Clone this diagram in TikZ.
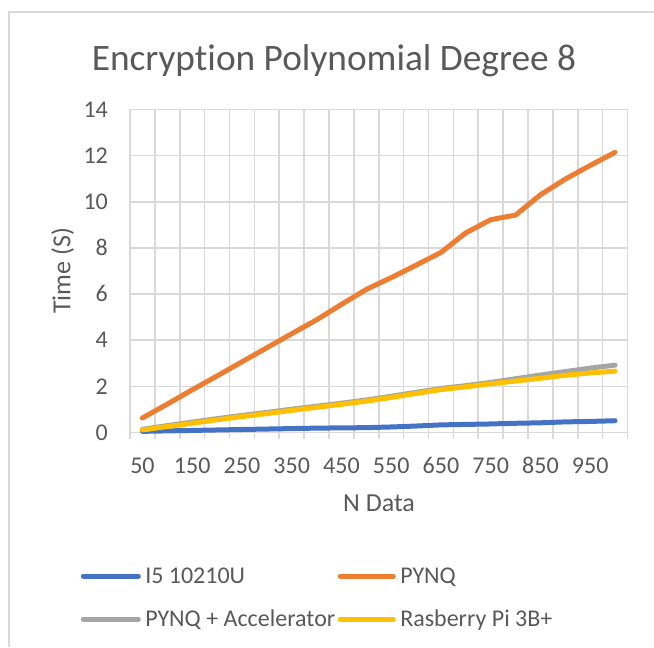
\documentclass[tikz,border=0pt]{standalone}
\usepackage{fontspec}
\setmainfont{Carlito}[Ligatures=NoCommon]
\usetikzlibrary{positioning}

\definecolor{txtgray}{HTML}{595959}
\definecolor{gridgray}{HTML}{D9D9D9}
\definecolor{i5blue}{HTML}{4472C4}
\definecolor{pynqorange}{HTML}{ED7D31}
\definecolor{accgray}{HTML}{A5A5A5}
\definecolor{rpiyellow}{HTML}{FFC000}

\begin{document}
\begin{tikzpicture}[x=0.75pt, y=-0.75pt,
        every node/.style={text=txtgray, inner sep=0pt, text depth=0pt},
        gridline/.style={draw=gridgray, line width=1.2pt},
        series/.style={line width=3.75pt, line cap=round, line join=round},
        ticklabel/.style={font=\fontsize{18}{21}\selectfont, text height=11.6pt},
        axistitle/.style={font=\fontsize{19.5}{23}\selectfont, text height=12.6pt},
        legendtext/.style={font=\fontsize{18}{21}\selectfont, text height=11.6pt, anchor=west},
        legendline/.style={line width=3.75pt, line cap=round}]
        \useasboundingbox (0,0) rectangle (654,647);
        
        % chart frame
        \draw[gridgray, line width=1.5pt] (9,647) |- (654,12);
        
        \node[font=\fontsize{28}{33}\selectfont, text height=18pt] (title) at (334,58) {Encryption Polynomial Degree 8};
        
        \begin{scope}[shift={(130,432.5)}, x=18.656pt, y=17.31pt]
            \foreach \k in {0,...,20}
                \draw[gridline] (\k,-0.28) -- (\k,14);
            \foreach \v in {0,2,...,14} {
                \draw[gridline] (0,\v) -- (20,\v);
                \node[ticklabel, anchor=east] at (-0.88,\v) {\v};
            }
            \foreach \n [count=\i] in {50,150,...,950}
                \node[ticklabel] at (2*\i-1.5,-1.42) {\n};
            
            \draw[series, i5blue] plot coordinates {(0.5,0.05) (1.5,0.07) (2.5,0.09) (3.5,0.11) (4.5,0.13) (5.5,0.15) (6.5,0.17) (7.5,0.19) (8.5,0.20) (9.5,0.21) (10.5,0.24) (11.5,0.28) (12.5,0.33) (13.5,0.35) (14.5,0.37) (15.5,0.40) (16.5,0.42) (17.5,0.46) (18.5,0.48) (19.5,0.51)};
            \draw[series, pynqorange] plot coordinates {(0.5,0.63) (1.5,1.23) (2.5,1.85) (3.5,2.45) (4.5,3.06) (5.5,3.67) (6.5,4.28) (7.5,4.88) (8.5,5.55) (9.5,6.20) (10.5,6.71) (11.5,7.25) (12.5,7.80) (13.5,8.65) (14.5,9.22) (15.5,9.42) (16.5,10.30) (17.5,10.98) (18.5,11.57) (19.5,12.14)};
            \draw[series, accgray] plot coordinates {(0.5,0.14) (1.5,0.30) (2.5,0.45) (3.5,0.60) (4.5,0.74) (5.5,0.87) (6.5,1.01) (7.5,1.14) (8.5,1.27) (9.5,1.41) (10.5,1.57) (11.5,1.74) (12.5,1.91) (13.5,2.03) (14.5,2.17) (15.5,2.33) (16.5,2.49) (17.5,2.64) (18.5,2.79) (19.5,2.92)};
            \draw[series, rpiyellow] plot coordinates {(0.5,0.11) (1.5,0.26) (2.5,0.40) (3.5,0.55) (4.5,0.69) (5.5,0.82) (6.5,0.96) (7.5,1.09) (8.5,1.22) (9.5,1.36) (10.5,1.52) (11.5,1.69) (12.5,1.86) (13.5,1.98) (14.5,2.11) (15.5,2.23) (16.5,2.35) (17.5,2.48) (18.5,2.58) (19.5,2.66)};
        \end{scope}
        
        \node[axistitle, rotate=90] (ylabel) at (62,271) {Time (S)};
        \node[axistitle] (xlabel) at (379,503) {N Data};
        
        % legend
        \node[legendtext] (lg i5) at (145,576) {I5 10210U};
        \node[legendtext] (lg pynq) at (400,576) {PYNQ};
        \node[legendtext] (lg acc) at (145,619) {PYNQ + Accelerator};
        \node[legendtext] (lg rpi) at (400,619) {Rasberry Pi 3B+};
        
        \draw[legendline, i5blue] ([xshift=-5]lg i5.west) -- ++(-55,0);
        \draw[legendline, pynqorange] ([xshift=-5]lg pynq.west) -- ++(-53,0);
        \draw[legendline, accgray] ([xshift=-5]lg acc.west) -- ++(-55,0);
        \draw[legendline, rpiyellow] ([xshift=-5]lg rpi.west) -- ++(-53,0);
    \end{tikzpicture}
\end{document}
